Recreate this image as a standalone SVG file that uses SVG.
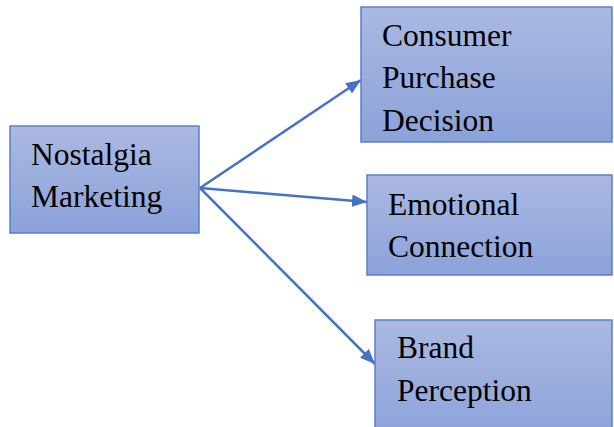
<svg xmlns="http://www.w3.org/2000/svg" width="614" height="427" viewBox="0 0 614 427">
  <defs>
    <linearGradient id="boxFill" x1="0" y1="0" x2="0" y2="1">
      <stop offset="0" stop-color="#abb9e2"/>
      <stop offset="1" stop-color="#8ba2d9"/>
    </linearGradient>
    <marker id="arrow" viewBox="0 0 12 10" refX="12" refY="5" markerWidth="15" markerHeight="12.5" markerUnits="userSpaceOnUse" orient="auto">
      <path d="M0,0 L12,5 L0,10 Z" fill="#4472c4"/>
    </marker>
  </defs>
  <style>
    .box { fill: url(#boxFill); stroke: #5a7fcc; stroke-width: 1.5; }
    .link { stroke: #4472c4; stroke-width: 2.5; fill: none; marker-end: url(#arrow); }
  </style>

  <rect width="614" height="427" fill="#ffffff"/>

  <g id="connectors">
    <line class="link" x1="200" y1="188" x2="361" y2="80"/>
    <line class="link" x1="200" y1="188" x2="367" y2="202"/>
    <line class="link" x1="200" y1="188" x2="375" y2="364"/>
  </g>

  <g id="nostalgia-marketing">
    <rect class="box" x="10" y="126" width="189" height="107"/>
    <text x="31" y="165" font-size="31.5" font-family="'Liberation Serif', serif" fill="#000">Nostalgia</text>
    <text x="31" y="207" font-size="31.5" font-family="'Liberation Serif', serif" fill="#000">Marketing</text>
  </g>

  <g id="consumer-purchase-decision">
    <rect class="box" x="361" y="7" width="251" height="135"/>
    <text x="382" y="46" font-size="31.5" font-family="'Liberation Serif', serif" fill="#000">Consumer</text>
    <text x="382" y="88" font-size="31.5" font-family="'Liberation Serif', serif" fill="#000">Purchase</text>
    <text x="382" y="131" font-size="31.5" font-family="'Liberation Serif', serif" fill="#000">Decision</text>
  </g>

  <g id="emotional-connection">
    <rect class="box" x="367" y="175" width="245" height="100"/>
    <text x="388" y="215" font-size="31.5" font-family="'Liberation Serif', serif" fill="#000">Emotional</text>
    <text x="388" y="257" font-size="31.5" font-family="'Liberation Serif', serif" fill="#000">Connection</text>
  </g>

  <g id="brand-perception">
    <rect class="box" x="375" y="320" width="237" height="120"/>
    <text x="397" y="358" font-size="31.5" font-family="'Liberation Serif', serif" fill="#000">Brand</text>
    <text x="397" y="401" font-size="31.5" font-family="'Liberation Serif', serif" fill="#000">Perception</text>
  </g>
</svg>
